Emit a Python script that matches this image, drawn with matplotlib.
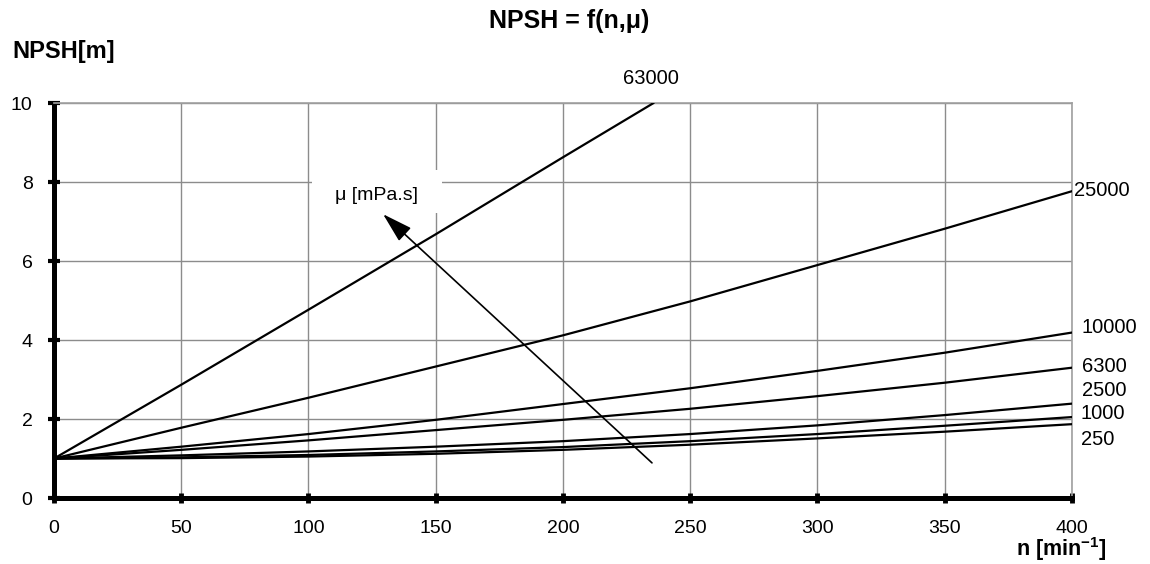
import matplotlib
matplotlib.use("Agg")
import matplotlib.pyplot as plt
from matplotlib.patches import Rectangle

plt.rcParams['font.family'] = ['Liberation Sans', 'DejaVu Sans']
plt.rcParams['mathtext.fontset'] = 'custom'
plt.rcParams['mathtext.rm'] = 'Liberation Sans:bold'
plt.rcParams['mathtext.bf'] = 'Liberation Sans:bold'
plt.rcParams['mathtext.default'] = 'bf'

# ---- data ----
n_vals = [0, 50, 100, 150, 200, 250, 300, 350, 400]
npsh_250 = [1.0, 1.01, 1.05, 1.12, 1.22, 1.35, 1.51, 1.68, 1.87]
npsh_1000 = [1.0, 1.03, 1.09, 1.18, 1.29, 1.44, 1.62, 1.83, 2.05]
npsh_2500 = [1.0, 1.08, 1.18, 1.30, 1.44, 1.62, 1.84, 2.10, 2.39]
npsh_6300 = [1.0, 1.22, 1.46, 1.72, 1.98, 2.26, 2.58, 2.92, 3.30]
npsh_10000 = [1.0, 1.30, 1.62, 1.98, 2.38, 2.78, 3.22, 3.68, 4.19]
npsh_25000 = [1.0, 1.78, 2.54, 3.33, 4.12, 4.98, 5.90, 6.82, 7.77]
n_63000 = [0, 50, 100, 150, 200, 235.5]
npsh_63000 = [1.0, 2.87, 4.77, 6.68, 8.63, 10.0]

series_labels = ['250', '1000', '2500', '6300', '10000', '25000']
series_values = [npsh_250, npsh_1000, npsh_2500, npsh_6300, npsh_10000, npsh_25000]

x_ticks = [0, 50, 100, 150, 200, 250, 300, 350, 400]
y_ticks = [0, 2, 4, 6, 8, 10]

# label placement (layout only)
label_x = [403.5, 403.5, 404.0, 404.0, 404.0, 401.0]
label_y = [1.49, 2.15, 2.73, 3.34, 4.33, 7.80]

fig = plt.figure(figsize=(11.5, 5.64), dpi=100)
ax = fig.add_axes([0.047, 0.117, 0.885, 0.700])

grid_c = '#8c8c8c'
ax.set_xlim(0, 400)
ax.set_ylim(0, 10)
ax.set_xticks(x_ticks)
ax.set_yticks(y_ticks)
ax.grid(True, color=grid_c, lw=1.0)
ax.set_axisbelow(True)

for s in ['top', 'right']:
    ax.spines[s].set_color('#a0a0a0')
    ax.spines[s].set_linewidth(1.2)
for s in ['left', 'bottom']:
    ax.spines[s].set_color('black')
    ax.spines[s].set_linewidth(3.6)

ax.tick_params(axis='y', direction='inout', length=9, width=3, pad=11,
               labelsize=14, colors='black')
ax.tick_params(axis='x', direction='inout', length=7, width=3.5, pad=12,
               labelsize=14, colors='black')

for vals, lab, lx, ly in zip(series_values, series_labels, label_x, label_y):
    ax.plot(n_vals, vals, color='black', lw=1.6, zorder=3)
    ax.text(lx, ly, lab, fontsize=14.5, va='center', ha='left', clip_on=False)

ax.plot(n_63000, npsh_63000, color='black', lw=1.6, zorder=3)
ax.text(234.5, 10.62, '63000', fontsize=14.5, va='center', ha='center', clip_on=False)

# white box behind the viscosity label
ax.add_patch(Rectangle((101.4, 7.22), 51.1, 1.08, facecolor='white',
                       edgecolor='none', zorder=1))
ax.text(126.9, 7.65, 'μ [mPa.s]', fontsize=14, ha='center', va='center', zorder=4)
ax.annotate('', xy=(129.3, 7.19), xytext=(235, 0.89),
            arrowprops=dict(arrowstyle='-|>,head_length=0.75,head_width=0.22',
                            lw=1.2, color='black', mutation_scale=25,
                            shrinkA=0, shrinkB=0), zorder=4)

fig.text(0.495, 0.962, 'NPSH = f(n,μ)', fontsize=18, fontweight='bold',
         ha='center', va='center')
fig.text(0.011, 0.908, 'NPSH[m]', fontsize=17, fontweight='bold',
         ha='left', va='center')
fig.text(0.923, 0.001, r'n [min$^{-1}$]', fontsize=15.5, fontweight='bold',
         ha='center', va='bottom')

fig.savefig('out.png', dpi=100)
